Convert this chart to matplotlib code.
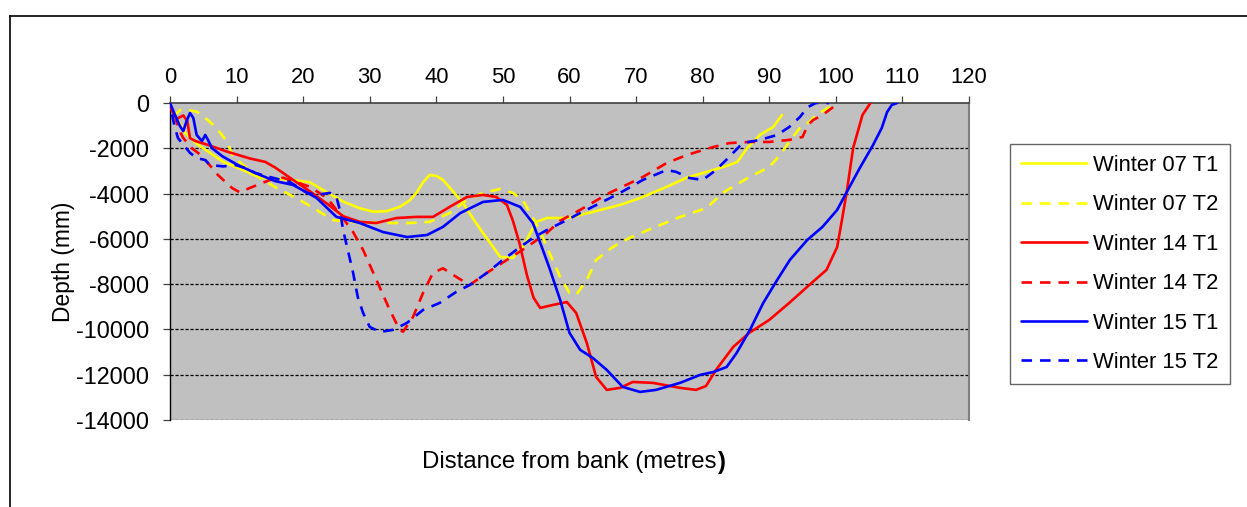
import matplotlib
matplotlib.use("Agg")
import matplotlib.pyplot as plt
from matplotlib.lines import Line2D

plt.rcParams['font.family'] = ['Liberation Sans', 'DejaVu Sans']
plt.rcParams['axes.unicode_minus'] = False

# river cross-section survey, distance (m) vs depth (mm)
w07_t1_x = [0.5, 2.2, 4, 6, 8, 10.5, 13.5, 16, 18.5, 21, 23.6, 26, 28.5, 30.5, 32.5, 34.5, 36, 37, 38, 39,
            40, 41, 42.5, 44, 45.5, 47, 48.5, 49.6, 51.5, 53, 54, 55, 56.6, 59.6, 63.5, 67.6, 70.6, 74.6,
            77.6, 81.6, 84, 85.2, 86.7, 88.6, 90.6, 91.9]
w07_t1_y = [-400, -1300, -1800, -2200, -2600, -2900, -3300, -3350, -3400, -3500, -3950, -4350, -4650, -4800,
            -4780, -4590, -4300, -3970, -3500, -3180, -3220, -3400, -3900, -4420, -5100, -5740, -6350, -6800,
            -6840, -6360, -5800, -5250, -5080, -5080, -4810, -4500, -4200, -3700, -3300, -2960, -2740, -2600,
            -1990, -1410, -1060, -530]

w07_t2_x = [0.5, 1.5, 3, 4, 5.3, 6.5, 7.5, 8.6, 9.5, 11, 13.5, 16, 18, 20, 22, 24.5, 27, 32, 36, 39, 42,
            44.6, 47, 49.6, 51.5, 53, 54, 55.5, 56.6, 58.6, 60, 61, 62.6, 64, 66.5, 69, 72.5, 76.6, 80.6,
            83, 87, 90, 91.6, 93, 94.6, 96, 97, 99.6]
w07_t2_y = [-600, -310, -330, -380, -660, -970, -1300, -1720, -2380, -2740, -3310, -3750, -4050, -4370,
            -4720, -5170, -5250, -5300, -5300, -5250, -4860, -4280, -3970, -3800, -3970, -4300, -4810, -5600,
            -6360, -7680, -8390, -8480, -7810, -6930, -6360, -5960, -5520, -5030, -4640, -3970, -3270, -2830,
            -2300, -1720, -1100, -840, -530, -90]

w14_t1_x = [0, 1, 2, 2.6, 3, 3.8, 5.7, 8.6, 12, 14.3, 15.8, 18.5, 21, 23.6, 26, 28.5, 31, 34, 37, 39.5, 42,
            44.6, 47, 49, 50.6, 51.5, 52.5, 53.6, 54.6, 55.6, 57.5, 59.6, 61, 62.6, 64, 65.6, 67.6, 69.5,
            72.5, 76.6, 79, 80.5, 82, 84.6, 87, 90, 93, 96, 98.6, 100.2, 101, 101.7, 102.6, 104, 105.2]
w14_t1_y = [-200, -700, -550, -800, -1550, -1680, -1850, -2150, -2450, -2600, -2850, -3400, -3900, -4450,
            -5000, -5250, -5300, -5080, -5030, -5030, -4590, -4150, -4060, -4150, -4500, -5200, -6200, -7600,
            -8600, -9050, -8920, -8790, -9270, -10600, -12100, -12670, -12580, -12320, -12360, -12580, -12670,
            -12500, -11790, -10770, -10150, -9580, -8830, -8040, -7370, -6360, -5030, -3800, -1990, -530, 0]

w14_t2_x = [0.75, 1.2, 2, 3.3, 4.8, 7.2, 9.3, 10.5, 12, 15, 17, 18.5, 21, 23.6, 25.5, 27.5, 29, 31, 33,
            34.5, 35, 36.5, 38, 39.5, 41, 43, 45, 47.6, 50.6, 53.6, 56.6, 58.6, 61.6, 66, 71, 74.6, 77.6, 81,
            84, 87, 90, 93, 95, 95.8, 96.6, 98, 99.6]
w14_t2_y = [-530, -1100, -1550, -2000, -2340, -3180, -3750, -3950, -3750, -3400, -3300, -3450, -3700, -4200,
            -4900, -5700, -6490, -7810, -9140, -10020, -10100, -9450, -8390, -7500, -7300, -7680, -8040, -7500,
            -6930, -6360, -5740, -5200, -4720, -3970, -3270, -2650, -2300, -1990, -1770, -1720, -1720, -1630,
            -1500, -970, -750, -530, -180]

w15_t1_x = [0, 0.75, 1.5, 2, 2.5, 3, 3.5, 4, 4.8, 5.3, 5.7, 6.3, 7.8, 10.2, 12.8, 15.8, 18.5, 22, 25, 28.5,
            32, 35.6, 38.6, 41, 43.6, 47, 50, 52.6, 54.5, 56, 57, 58.6, 60, 61.6, 63.5, 65.6, 68, 70.6, 73,
            76.6, 79.6, 81.6, 83.6, 85.1, 87.1, 89.1, 91.2, 93.1, 95.7, 98, 100.2, 101.7, 103.6, 105.6,
            106.9, 107.7, 108.4, 109.2]
w15_t1_y = [0, -530, -1020, -1240, -790, -440, -660, -1410, -1680, -1410, -1630, -1990, -2340, -2740, -3090,
            -3450, -3620, -4190, -5030, -5300, -5700, -5920, -5830, -5470, -4860, -4370, -4280, -4590, -5300,
            -6490, -7300, -8700, -10150, -10900, -11260, -11790, -12540, -12760, -12670, -12360, -12010,
            -11880, -11660, -11040, -10020, -8830, -7810, -6930, -6050, -5470, -4720, -3900, -2870, -1850,
            -1100, -400, -90, 0]

w15_t2_x = [0.3, 0.75, 1.2, 3, 4, 5.3, 6, 8, 9.8, 11.3, 12.8, 15, 18, 20.6, 22, 24, 25, 25.5, 26, 26.7, 27.5,
            28.2, 29, 30, 31.5, 33.5, 35.6, 38, 40.5, 43, 45, 47.6, 50, 52, 54.5, 56.6, 59.6, 61.6, 64.6,
            67.6, 71, 74.6, 76, 78, 80, 82, 84, 86, 88.6, 91.2, 93, 94.6, 95.8, 97, 99]
w15_t2_y = [-500, -1100, -1550, -2200, -2430, -2520, -2740, -2800, -2740, -2870, -3090, -3270, -3490, -3970,
            -4060, -3970, -4150, -4720, -5610, -6490, -7500, -8570, -9270, -9890, -10110, -10020, -9710,
            -9140, -8830, -8340, -8040, -7500, -6930, -6490, -5960, -5610, -5170, -4860, -4420, -3970, -3400,
            -2960, -3040, -3310, -3400, -2960, -2380, -1770, -1630, -1410, -1060, -620, -180, 0, 0]

series = [
    ("Winter 07 T1", w07_t1_x, w07_t1_y, "#FFFF00", "-"),
    ("Winter 07 T2", w07_t2_x, w07_t2_y, "#FFFF00", (0, (4, 3))),
    ("Winter 14 T1", w14_t1_x, w14_t1_y, "#FF0000", "-"),
    ("Winter 14 T2", w14_t2_x, w14_t2_y, "#FF0000", (0, (4, 3))),
    ("Winter 15 T1", w15_t1_x, w15_t1_y, "#0000FF", "-"),
    ("Winter 15 T2", w15_t2_x, w15_t2_y, "#0000FF", (0, (4, 3))),
]

x_ticks = list(range(0, 121, 10))
y_ticks = list(range(0, -14001, -2000))

FS = 15.8
W, H = 1247, 507
fig = plt.figure(figsize=(W / 100, H / 100), dpi=100)
ax = fig.add_axes([170 / W, 1 - 420 / H, (969 - 170) / W, (420 - 103) / H])
ax.set_facecolor("#C0C0C0")

for y in y_ticks[1:]:
    ax.axhline(y, color="black", lw=0.9, ls=(0, (2.5, 1.5)), zorder=1)

for name, xs, ys, col, ls in series:
    ax.plot(xs, ys, color=col, ls=ls, lw=1.9, label=name, zorder=3,
            solid_joinstyle="round", solid_capstyle="round")

ax.set_xlim(0, 120)
ax.set_ylim(-14000, 0)
ax.set_xticks(x_ticks)
ax.set_yticks(y_ticks)
ax.xaxis.tick_top()
ax.tick_params(axis="x", labelsize=FS, length=5, width=0.9, color="#404040", pad=6)
ax.tick_params(axis="y", labelsize=16.8, length=5, width=0.9, color="#404040", pad=10)

ax.spines["top"].set_color("#404040")
ax.spines["top"].set_linewidth(1.2)
ax.spines["left"].set_color("black")
ax.spines["left"].set_linewidth(1.0)
ax.spines["right"].set_color("#808080")
ax.spines["right"].set_linewidth(1.5)
ax.spines["bottom"].set_visible(False)

ax.set_ylabel("Depth (mm)", fontsize=16.4, labelpad=1)
fig.text((723 - 6) / W, 1 - 462 / H, "Distance from bank (metres", fontsize=17.3, ha="right", va="center")
fig.text((723 - 6) / W, 1 - 462 / H, ")", fontsize=17.3, fontweight="bold", ha="left", va="center")

leg = fig.legend(loc="center left", bbox_to_anchor=(1010 / W, 1 - 264 / H), fontsize=FS,
                 handlelength=3.0, labelspacing=0.84, handletextpad=0.3, borderpad=0.5,
                 frameon=True, fancybox=False, edgecolor="#404040", borderaxespad=0)
leg.get_frame().set_linewidth(1.0)

# outer chart frame
fig.add_artist(Line2D([10 / W, 10 / W], [0, 1 - 16 / H], color="black", lw=1.2, transform=fig.transFigure))
fig.add_artist(Line2D([10 / W, 1], [1 - 16 / H, 1 - 16 / H], color="black", lw=1.2, transform=fig.transFigure))

fig.savefig("out.png", dpi=100)
